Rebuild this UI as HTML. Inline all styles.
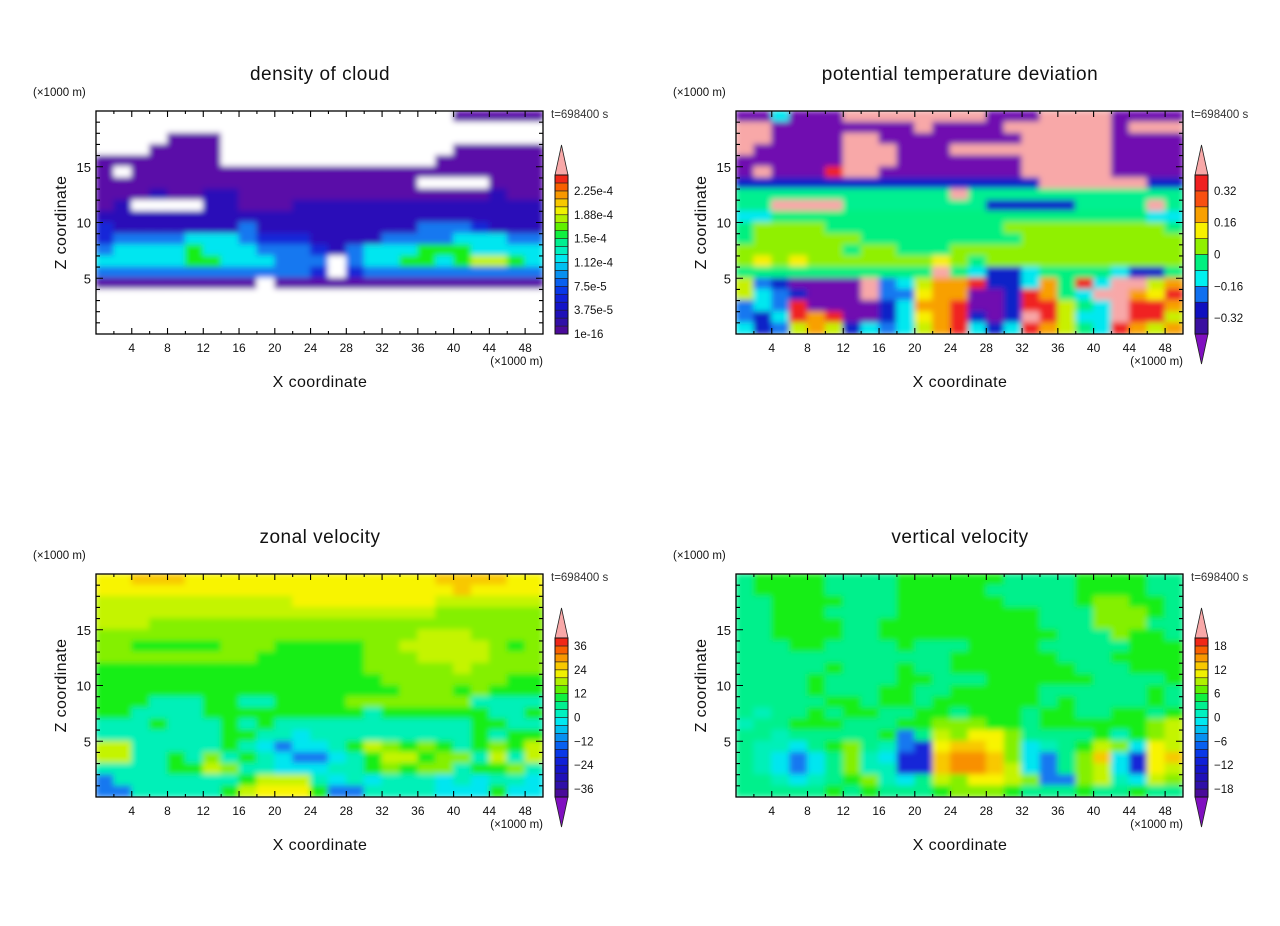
<!DOCTYPE html>
<html><head><meta charset="utf-8"><title>Cloud model fields</title>
<style>
html,body{margin:0;padding:0;background:#fff;}
svg{display:block;font-family:"Liberation Sans",sans-serif;}
</style></head>
<body>
<svg id="fig" width="1280" height="926" viewBox="0 0 1280 926">
<defs>
<filter id="soft" x="-5%" y="-5%" width="110%" height="110%"><feGaussianBlur stdDeviation="2.8"/></filter>
</defs>
</svg>
<script>
// ---------- data ----------
const xTickLabels = [4,8,12,16,20,24,28,32,36,40,44,48];
const zTickLabels = [5,10,15];
const panelTitles = ["density of cloud","potential temperature deviation","zonal velocity","vertical velocity"];
const timeLabel = "t=698400 s";
const densityBarLabels = ["2.25e-4","1.88e-4","1.5e-4","1.12e-4","7.5e-5","3.75e-5","1e-16"];
const thetaBarLabels = ["0.32","0.16","0","\u22120.16","\u22120.32"];
const zonalBarLabels = ["36","24","12","0","\u221212","\u221224","\u221236"];
const vertBarLabels = ["18","12","6","0","\u22126","\u221212","\u221218"];
// field grids: each row is z-band of 1 km (top row = 19-20 km), each char a 2 km x-column, char = contour level class
const densityRows = [
"                    PPPPP",
"                         ",
"    PPP                  ",
"   PPPP             PPPPP",
"PPPPPPP            PPPPPP",
"P PPPPPPPPPPPPPPPPPPPPPPP",
"PPPPPPPPPPPPPPPPPP    PPP",
"PPPIPPIIPPPPPPPPPPPPPPIPP",
"PI    IIPPPIIIIIIIIIIIIII",
"IIIIIIIIIIIIIIIIIIIIIIIII",
"BIIIIIIIbIIIIIIIIIbbbBIII",
"BbbbbcccbBBBIIIIbbbbcccbb",
"bccccgcccbbbBIbcccgggcccc",
"cccccggcccbbb bccggcgyygc",
"bbbbbbbbbbbbB Bbbbbbbbbbb",
"PPPPPPPPP PPPPPPPPPPPPPPP",
"                         ",
"                         ",
"                         ",
"                         "];
const thetaRows = [
"PPcPPPppppppppPPPppppPPPP",
"ppPPPPPPPPpPPPPppppppPppp",
"ppPPPPppPPPPPPPPpppppPPPP",
"pPPPPPpppPPPpppppppppPPPP",
"PPPPPPpppPPPPPPPpppppPPPP",
"PpPPPrppPPPPPPPPpppppPPPP",
"BBBBBBBBBBBBBBBBBppppppBB",
"qqqqqqqqqqqqpqqqqqqqqqqqq",
"qqppppqqqqqqqqBBBBBqqqqpq",
"ccgggggggggggggggggggggcc",
"gllllgggggggggglllllllllg",
"gllllllggggggggglllllllll",
"llllllgllggglllllllllllll",
"lYlYlllllllYlglllllllllll",
"gggggggggggpgcBBcggggcBBg",
"ybBPPPPpbcyoorBBcogrcppyo",
"ycbBPPPpbbYooPPBrogcppoYr",
"bcbrPPPPBcoorPPBrrygcprro",
"bBcrorPPBcYorBPBpryccprry",
"cBbyoyBcbcyorcBcroygcroyo"];
const zonalRows = [
"YYOOOYYYYYYYYYYYYYYOOOOYY",
"YYYYYYYYYYYYYYYYYYYYOYYYY",
"yyyyyyyyyyyYYYYYYYYyyyyyy",
"yyyyyyyyyyyyyyyyyyyllllll",
"yyyllllllllllllllllllllll",
"llllllllllllllllllyyyllll",
"llggggglllgggggllyyyyylgl",
"lllllllllgggggglllyyyylll",
"ggggggggggggggglllllyllll",
"gggggggggggggggglllllllgg",
"ggggggggggggggggglllglggg",
"gggqqqggqqgggglllllllqqqq",
"ggqqqqgggggggggqggggggqqg",
"qqqgqqqgqgqqqqqqqqqqqggqq",
"qqqqqqqggqqcqqqqqqqqqgqgg",
"yyqqqqqgqcbccqgylglgqglgy",
"yyqqgqlqgqcbbcqgyygllqyqy",
"qqqqggylqqcccqqglgllqgglq",
"bqqqqqqqgyyyqcqcqqqcqcqqc",
"bbqqqqqgyYYYgbbqqqqcccgcc"];
const vertRows = [
"aggggaaaaggggggaaaaggggaa",
"aggggaaaagggggaaaaaggggaa",
"aaggggaaaggggggaaaagllgga",
"aagggaaaaggggggggaaalllga",
"aaggggaagggggggggaaalllaa",
"aaggggaaggggggggggaaalgga",
"aaaggaaaagaaaggggaaaaaggg",
"aaaaaaaaaaaaggggggaaagggg",
"aaaaagaaagaagggggggaaaggg",
"aaaagaaaaggaaaggggggaaaag",
"aaaagaaaggaagggggaaaaaaga",
"aaaaaggaggaggggggagaaaaga",
"aqaagaggaaggagggaggaaggag",
"qaagggaaagglllggaggggggly",
"aaqaaaaagbaylYYlaaaagqgly",
"aqqcaglaqbBYOOYlcqagylcYy",
"aqcbcalqcBBOooOlcbalOcBYO",
"aqcbcalqqBBOooOycbalycBYy",
"aaqcqaglqcaylYYylbblyqcyl",
"aaaaagagaaaglllgaaagaagaa"];

// ---------- styling ----------
const PAL = {
 ' ':'#ffffff','P':'#5a0aa8','I':'#2c10b8','B':'#1828d8','b':'#1478f0','c':'#00e6f0',
 'q':'#00f0b8','a':'#00f08c','g':'#14ee14','l':'#84f000','y':'#c4f400','Y':'#f8f400',
 'O':'#f8c800','o':'#f89000','r':'#f03010','p':'#f8a8a8'
};
const themePal = {
 'P':'#7010b0','B':'#1020c8','b':'#1478f0','c':'#00e8f0','q':'#00f090','g':'#00f080',
 'l':'#90f000','y':'#c8f000','Y':'#f8f000','o':'#f8a000','r':'#f02020','p':'#f8a8a8'
};
const ramp20 = ['#4a0a9a','#3010a8','#2010b8','#1414c8','#1020d8','#0838e8','#0860f0','#0890f0','#00c0f0','#00e8f0',
 '#00f0c0','#00f090','#10f040','#60f000','#b0f000','#f0f000','#f8c800','#f89800','#f86000','#f02818'];
const ramp10 = ['#3a10a0','#1010c0','#1070f0','#00f0f0','#00f080','#90f000','#f8f000','#f8a000','#f85010','#f02020'];

const NS = "http://www.w3.org/2000/svg";
const svg = document.getElementById('fig');
function mk(tag, attrs, parent){
  const e = document.createElementNS(NS, tag);
  for (const k in attrs) e.setAttribute(k, attrs[k]);
  (parent||svg).appendChild(e);
  return e;
}

function drawPanel(idx, ox, oy, rows, pal, barColors, barLabels, bottomTri){
  const L = 96+ox, T = 111+oy, W = 447, H = 223;
  const xs = v => L + v/50*W;
  const zs = v => T + H - v/20*H;
  const g = mk('g', {});
  
  

  const t = mk('text', {x: L+224, y: T-31, 'font-size': 19, 'text-anchor':'middle', fill:'#111', 'letter-spacing':'0.5'}, g);
  t.textContent = panelTitles[idx];
  
  

  const u = mk('text', {x: L-63, y: T-15, 'font-size': 11.5, fill:'#111'}, g);
  u.textContent = "(\u00d71000 m)";
  
  

  const tl = mk('text', {x: L+455, y: T+7, 'font-size': 11.5, fill:'#333'}, g);
  tl.textContent = timeLabel;
  
  

  const cid = 'clip'+idx;
  const cp = mk('clipPath', {id: cid}, g);
  mk('rect', {x:L, y:T, width:W, height:H}, cp);
  const fg = mk('g', {'clip-path':'url(#'+cid+')'}, g);
  
  
  mk('rect', {x:L, y:T, width:W, height:H, fill:'#fff'}, fg);
  const inner = mk('g', {filter:'url(#soft)'}, fg);
  const nz = rows.length;
  rows.forEach((rowStr, r) => {
    const z1 = nz - r, z0 = z1 - 1;
    for (let c = 0; c < 25; c++){
      const ch = rowStr[c] !== undefined ? rowStr[c] : rowStr[rowStr.length-1];
      const col = pal[ch] || PAL[ch] || '#ffffff';
      const x0 = c*2;
      const cell = mk('rect', {x: xs(x0)-0.5, y: zs(z1)-0.5, width: xs(x0+2)-xs(x0)+1, height: zs(z0)-zs(z1)+1, fill: col}, inner);
      
      
    }
  });

  const fr = mk('rect', {x:L, y:T, width:W, height:H, fill:'none', stroke:'#000', 'stroke-width':1.3}, g);
  
  

  let d = '';
  for (let v = 2; v < 50; v += 2){
    const len = (v%4===0) ? 6 : 3;
    d += `M${xs(v)},${T+H}v${-len}M${xs(v)},${T}v${len}`;
  }
  for (let v = 1; v < 20; v++){
    const len = (v%5===0) ? 7 : 4;
    d += `M${L},${zs(v)}h${len}M${L+W},${zs(v)}h${-len}`;
  }
  mk('path', {d, stroke:'#000', 'stroke-width':1.1, fill:'none'}, g);

  xTickLabels.forEach(v => {
    const e = mk('text', {x: xs(v), y: T+H+18, 'font-size': 12, 'text-anchor':'middle', fill:'#111'}, g);
    e.textContent = v;
    
    
  });
  zTickLabels.forEach(v => {
    const e = mk('text', {x: L-5, y: zs(v)+5, 'font-size': 13, 'text-anchor':'end', fill:'#111'}, g);
    e.textContent = v;
    
    
  });
  const xu = mk('text', {x: L+W, y: T+H+31, 'font-size': 11.5, 'text-anchor':'end', fill:'#111'}, g);
  xu.textContent = "(\u00d71000 m)";
  
  

  const xl = mk('text', {x: L+224, y: T+H+53, 'font-size': 16, 'text-anchor':'middle', fill:'#111', 'letter-spacing':'0.4'}, g);
  xl.textContent = "X coordinate";
  
  

  const yl = mk('text', {x: 0, y: 0, 'font-size': 16, 'text-anchor':'middle', fill:'#111', 'letter-spacing':'0.4',
     transform:`translate(${L-30},${T+H/2}) rotate(-90)`}, g);
  yl.textContent = "Z coordinate";
  
  

  const cb = mk('g', {}, g);
  
  
  const bx = 555+ox, bw = 13, btop = 175+oy, bbot = 334+oy;
  const n = barColors.length, bh = (bbot-btop)/n;
  mk('path', {d:`M${bx},${btop}L${bx+bw/2},${btop-30}L${bx+bw},${btop}Z`, fill:'#f8a8a8', stroke:'#222', 'stroke-width':0.8}, cb);
  if (bottomTri) mk('path', {d:`M${bx},${bbot}L${bx+bw/2},${bbot+30}L${bx+bw},${bbot}Z`, fill:'#8010c0', stroke:'#222', 'stroke-width':0.8}, cb);
  barColors.forEach((c,i) => {
    const y = bbot - (i+1)*bh;
    mk('rect', {x:bx, y:y, width:bw, height:bh, fill:c, stroke:'#222', 'stroke-width':0.6}, cb);
  });
  mk('rect', {x:bx, y:btop, width:bw, height:bbot-btop, fill:'none', stroke:'#111', 'stroke-width':1}, cb);
  const step = (n === 20) ? 3 : 2;
  barLabels.forEach((lab, i) => {
    const k = barLabels.length - 1 - i;
    let y;
    if (n === 20) y = bbot - k*step*bh;
    else y = bbot - (k*step+1)*bh;
    if (idx >= 2) y = bbot - (k*3+1)*bh;
    const e = mk('text', {x: bx+19, y: y+4, 'font-size': 11.5, fill:'#111'}, cb);
    e.textContent = lab;
    
    
  });
}

drawPanel(0, 0, 0, densityRows, PAL, ramp20, densityBarLabels, false);
drawPanel(1, 640, 0, thetaRows, themePal, ramp10, thetaBarLabels, true);
drawPanel(2, 0, 463, zonalRows, PAL, ramp20, zonalBarLabels, true);
drawPanel(3, 640, 463, vertRows, PAL, ramp20, vertBarLabels, true);
</script>
</body></html>
